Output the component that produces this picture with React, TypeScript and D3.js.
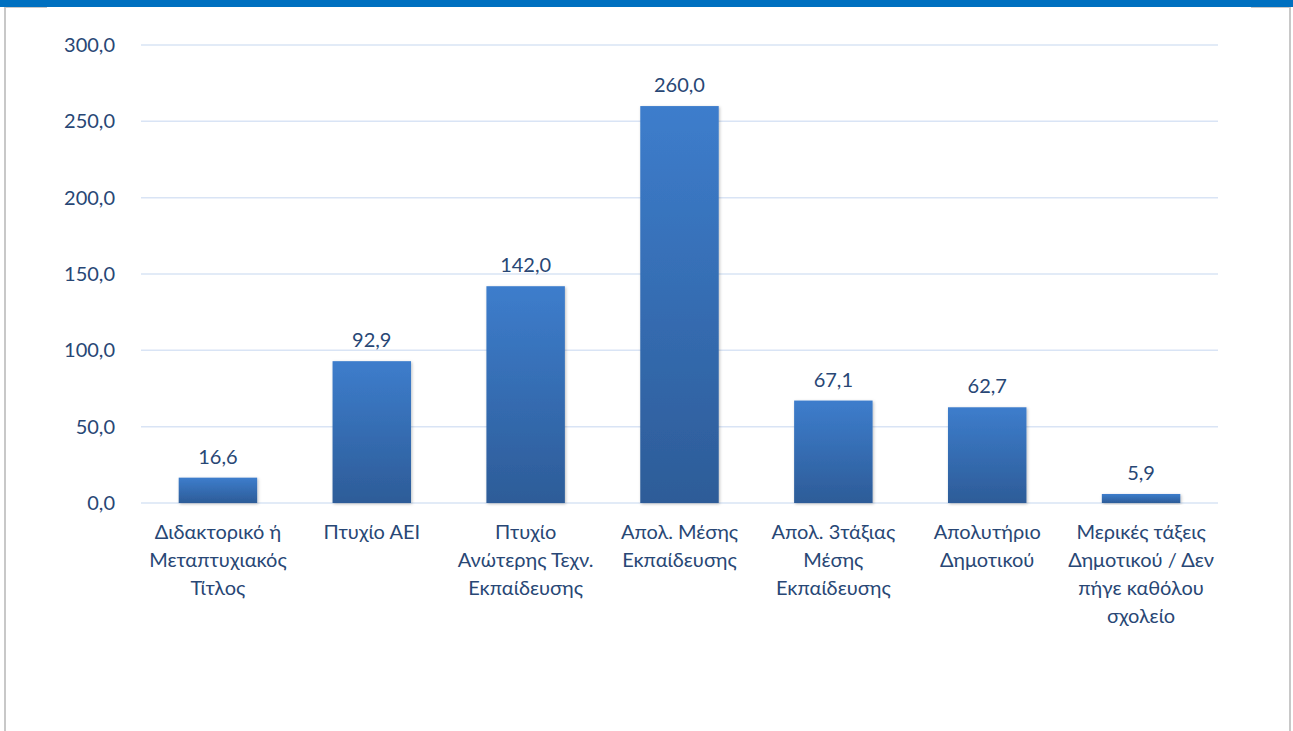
import React, { useRef, useEffect } from 'react';
import * as d3 from 'd3';

const categories = [
  ['Διδακτορικό ή', 'Μεταπτυχιακός', 'Τίτλος'],
  ['Πτυχίο ΑΕΙ'],
  ['Πτυχίο', 'Ανώτερης Τεχν.', 'Εκπαίδευσης'],
  ['Απολ. Μέσης', 'Εκπαίδευσης'],
  ['Απολ. 3τάξιας', 'Μέσης', 'Εκπαίδευσης'],
  ['Απολυτήριο', 'Δημοτικού'],
  ['Μερικές τάξεις', 'Δημοτικού / Δεν', 'πήγε καθόλου', 'σχολείο'],
];
const values = [16.6, 92.9, 142.0, 260.0, 67.1, 62.7, 5.9];
const yTicks = [0, 50, 100, 150, 200, 250, 300];

const W = 1293;
const H = 731;
const fmt = (v: number) => v.toFixed(1).replace('.', ',');

const App: React.FC = () => {
  const ref = useRef<SVGSVGElement | null>(null);

  useEffect(() => {
    if (!ref.current) return;
    const svg = d3.select(ref.current);
    svg.selectAll('*').remove();

    const margin = { top: 45, right: 75, bottom: 228, left: 141 };
    const textColor = '#284775';
    const font = 'Lato, "Open Sans", sans-serif';
    const fs = 20;

    const defs = svg.append('defs');
    const grad = defs
      .append('linearGradient')
      .attr('id', 'barGrad')
      .attr('x1', 0)
      .attr('y1', 0)
      .attr('x2', 0)
      .attr('y2', 1);
    grad.append('stop').attr('offset', '0%').attr('stop-color', '#3d7dcc');
    grad.append('stop').attr('offset', '100%').attr('stop-color', '#2d5c98');
    const shadow = defs.append('filter').attr('id', 'shadow').attr('x', '-20%').attr('y', '-20%').attr('width', '140%').attr('height', '140%');
    shadow
      .append('feDropShadow')
      .attr('dx', 1)
      .attr('dy', 1)
      .attr('stdDeviation', 1.5)
      .attr('flood-color', '#000')
      .attr('flood-opacity', 0.25);

    // frame
    svg.append('rect').attr('x', 0).attr('y', 0).attr('width', W).attr('height', H).attr('fill', '#fff');
    svg.append('rect').attr('x', 0).attr('y', 0).attr('width', W).attr('height', 7).attr('fill', '#0070c0');
    svg.append('rect').attr('x', 4).attr('y', 7).attr('width', 2).attr('height', H - 7).attr('fill', '#c8c8c8');
    svg.append('rect').attr('x', 1289).attr('y', 7).attr('width', 2).attr('height', H - 7).attr('fill', '#c8c8c8');
    svg.append('rect').attr('x', 6).attr('y', 7).attr('width', 41).attr('height', 1).attr('fill', '#c8c8c8');
    svg.append('rect').attr('x', 1251).attr('y', 7).attr('width', 38).attr('height', 1).attr('fill', '#c8c8c8');

    const x = d3
      .scaleBand<number>()
      .domain(values.map((_, i) => i))
      .range([margin.left, W - margin.right])
      .paddingInner(0.49)
      .paddingOuter(0.245);
    const y = d3
      .scaleLinear()
      .domain([0, 300])
      .range([H - margin.bottom, margin.top]);

    // grid
    svg
      .append('g')
      .selectAll('line')
      .data(yTicks)
      .join('line')
      .attr('x1', margin.left)
      .attr('x2', W - margin.right)
      .attr('y1', (d) => y(d))
      .attr('y2', (d) => y(d))
      .attr('stroke', '#d9e4f5')
      .attr('stroke-width', 1.5);

    // y labels
    svg
      .append('g')
      .selectAll('text')
      .data(yTicks)
      .join('text')
      .attr('x', 115)
      .attr('y', (d) => y(d))
      .attr('dy', '0.35em')
      .attr('text-anchor', 'end')
      .attr('font-family', font)
      .attr('font-size', fs)
      .attr('fill', textColor)
      .text((d) => fmt(d));

    // bars
    svg
      .append('g')
      .selectAll('rect')
      .data(values)
      .join('rect')
      .attr('x', (_, i) => x(i)!)
      .attr('y', (d) => y(d))
      .attr('width', x.bandwidth())
      .attr('height', (d) => y(0) - y(d))
      .attr('fill', 'url(#barGrad)')
      .attr('filter', 'url(#shadow)');

    // value labels
    svg
      .append('g')
      .selectAll('text')
      .data(values)
      .join('text')
      .attr('x', (_, i) => x(i)! + x.bandwidth() / 2)
      .attr('y', (d) => y(d) - 14)
      .attr('text-anchor', 'middle')
      .attr('font-family', font)
      .attr('font-size', fs)
      .attr('fill', textColor)
      .text((d) => fmt(d));

    // category labels
    const cat = svg
      .append('g')
      .selectAll('text')
      .data(categories)
      .join('text')
      .attr('x', (_, i) => x(i)! + x.bandwidth() / 2)
      .attr('y', y(0) + 36)
      .attr('text-anchor', 'middle')
      .attr('font-family', font)
      .attr('font-size', fs)
      .attr('fill', textColor);
    cat
      .selectAll('tspan')
      .data((d) => d)
      .join('tspan')
      .attr('x', function () {
        return (this.parentNode as SVGTextElement).getAttribute('x');
      })
      .attr('dy', (_, j) => (j === 0 ? 0 : 28))
      .text((d) => d);
  }, []);

  return (
    <svg
      ref={ref}
      width={W}
      height={H}
      style={{ position: 'absolute', left: 0, top: 0, display: 'block' }}
    />
  );
};

export default App;
